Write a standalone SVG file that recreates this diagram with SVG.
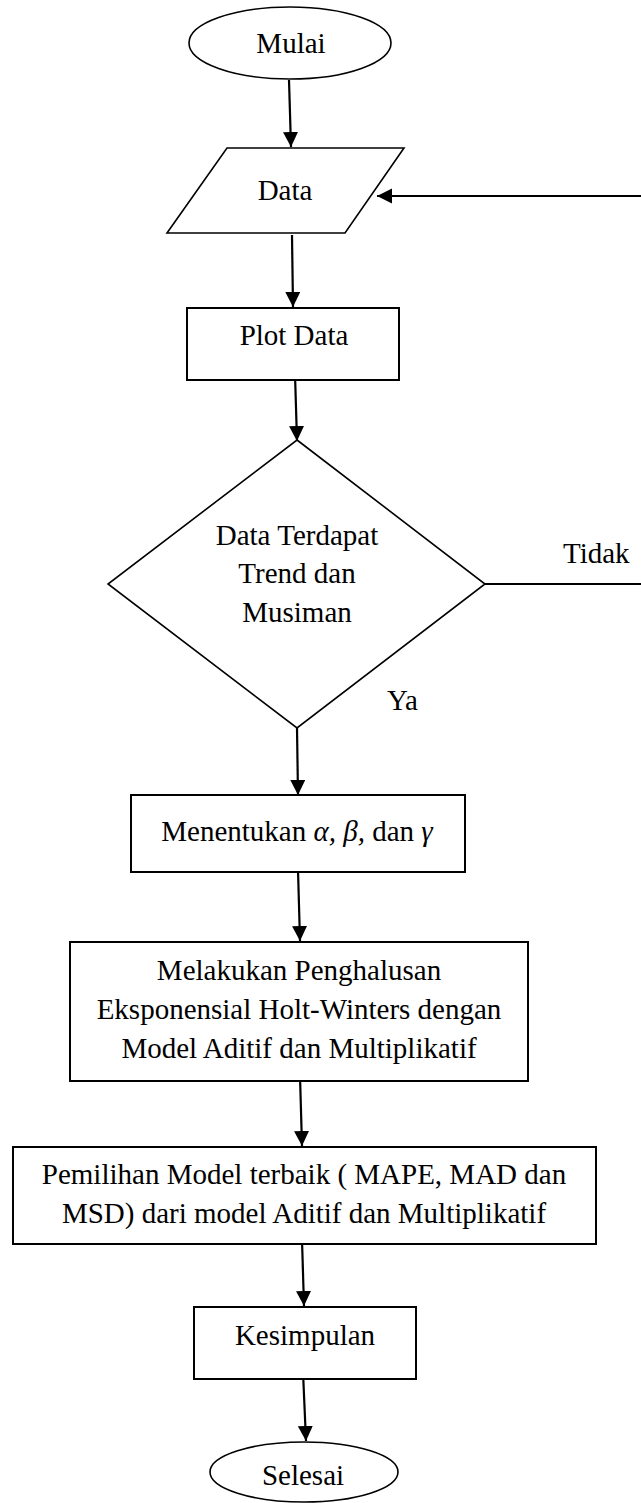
<svg xmlns="http://www.w3.org/2000/svg" width="641" height="1503" viewBox="0 0 641 1503">
<style>
.s{fill:#fff;stroke:#000;stroke-width:1.6}
.b{fill:#fff;stroke:#000;stroke-width:2}
.t{font-family:"Liberation Serif","Times New Roman",serif;font-size:29px;fill:#000;text-anchor:middle}
.c{fill:none;stroke:#000;stroke-width:2.2;marker-end:url(#ah)}
.l{fill:none;stroke:#000;stroke-width:2}
</style>
<defs>
<marker id="ah" markerUnits="userSpaceOnUse" markerWidth="16" markerHeight="16" refX="15" refY="7.5" orient="auto">
<path d="M0,0 L15,7.5 L0,15 Z" fill="#000"/>
</marker>
</defs>
<rect width="641" height="1503" fill="#fff"/>
<g id="connectors">
<path class="c" d="M292,235 L293,307"/>
<path class="c" d="M289,80 L291,147"/>
<path class="c" d="M295,374 L297,441"/>
<path class="l" d="M485,584 L641,584"/>
<path class="c" d="M641,196 L377,196"/>
<path class="c" d="M297,728 L298,795"/>
<path class="c" d="M298,870 L300,941"/>
<path class="c" d="M300,1076 L302,1146"/>
<path class="c" d="M302,1240 L304,1306"/>
<path class="c" d="M303,1372 L306,1441"/>
</g>
<g id="mulai">
<ellipse class="s" cx="290" cy="43" rx="101" ry="36"/>
<text class="t" x="291" y="53">Mulai</text>
</g>
<g id="data">
<polygon class="s" points="227,148 404,148 345,233 167,233"/>
<text class="t" x="285" y="200">Data</text>
</g>
<g id="plot">
<rect class="b" x="187" y="308" width="212" height="72"/>
<text class="t" x="294" y="345">Plot Data</text>
</g>
<g id="decision">
<polygon class="s" points="297,440 485,584 297,728 108,584"/>
<text class="t" x="297" y="545">Data Terdapat</text>
<text class="t" x="297" y="583">Trend dan</text>
<text class="t" x="297" y="622">Musiman</text>
<text class="t" x="563" y="563" style="text-anchor:start">Tidak</text>
<text class="t" x="387" y="710" style="text-anchor:start">Ya</text>
</g>
<g id="menentukan">
<rect class="b" x="131" y="795" width="334" height="77"/>
<text class="t" x="297" y="841">Menentukan <tspan font-style="italic">α, β,</tspan> dan <tspan font-style="italic">γ</tspan></text>
</g>
<g id="melakukan">
<rect class="b" x="70" y="942" width="458" height="139"/>
<text class="t" x="299" y="980">Melakukan Penghalusan</text>
<text class="t" x="299" y="1019">Eksponensial Holt-Winters dengan</text>
<text class="t" x="299" y="1058">Model Aditif dan Multiplikatif</text>
</g>
<g id="pemilihan">
<rect class="b" x="13" y="1147" width="583" height="97"/>
<text class="t" x="304" y="1184">Pemilihan Model terbaik ( MAPE, MAD dan</text>
<text class="t" x="304" y="1223">MSD) dari model Aditif dan Multiplikatif</text>
</g>
<g id="kesimpulan">
<rect class="b" x="194" y="1307" width="222" height="72"/>
<text class="t" x="305" y="1345">Kesimpulan</text>
</g>
<g id="selesai">
<ellipse class="s" cx="304" cy="1472" rx="94" ry="30"/>
<text class="t" x="303" y="1485">Selesai</text>
</g>
</svg>
